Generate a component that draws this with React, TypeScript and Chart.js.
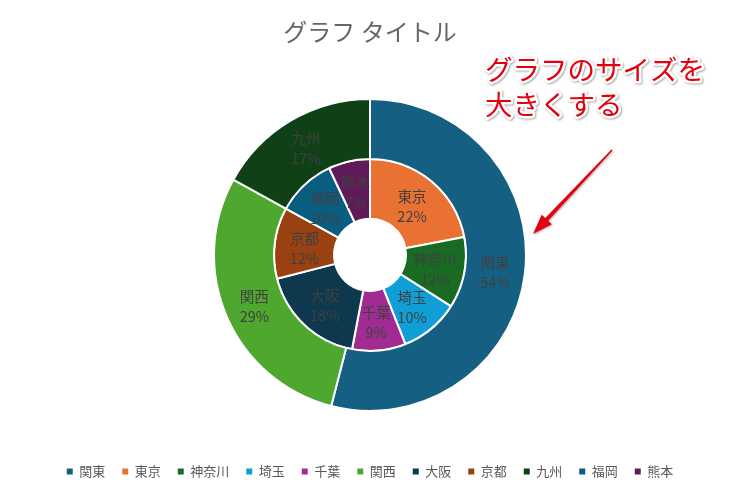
import React, { useEffect, useRef } from 'react';
import { Chart, registerables } from 'chart.js';

Chart.register(...registerables);

const categories = ['関東', '東京', '神奈川', '埼玉', '千葉', '関西', '大阪', '京都', '九州', '福岡', '熊本'];
// outer ring: regions
const regionValues = [54, 0, 0, 0, 0, 29, 0, 0, 17, 0, 0];
// inner ring: prefectures
const prefectureValues = [0, 22, 12, 10, 9, 0, 18, 12, 0, 10, 7];
const sliceColors = ['#156082', '#E97132', '#196B24', '#0F9ED5', '#A02B93', '#4EA72E', '#0D384E', '#994111', '#0F4016', '#095E80', '#601A59'];
const chartTitle = 'グラフ タイトル';
const calloutLines = ['グラフのサイズを', '大きくする'];

const FONT = "'Noto Sans CJK JP', 'Noto Sans', sans-serif";

const ringLabelsPlugin = {
  id: 'ringLabels',
  afterDatasetsDraw(chart: any) {
    const ctx = chart.ctx;
    ctx.save();
    ctx.font = `14.5px ${FONT}`;
    ctx.fillStyle = '#404040';
    ctx.textAlign = 'center';
    ctx.textBaseline = 'middle';
    chart.data.datasets.forEach((ds: any, di: number) => {
      const meta = chart.getDatasetMeta(di);
      const total = ds.data.reduce((a: number, b: number) => a + b, 0);
      meta.data.forEach((arc: any, i: number) => {
        const v = ds.data[i];
        if (!v) return;
        const p = arc.tooltipPosition();
        const pct = Math.round((v / total) * 100) + '%';
        ctx.fillText(chart.data.labels[i], p.x, p.y - 8);
        ctx.fillText(pct, p.x, p.y + 12);
      });
    });
    ctx.restore();
  },
};

const calloutPlugin = {
  id: 'callout',
  afterDraw(chart: any) {
    const ctx = chart.ctx;
    ctx.save();
    ctx.font = `27.5px ${FONT}`;
    ctx.textAlign = 'left';
    ctx.textBaseline = 'middle';
    ctx.lineJoin = 'round';
    const ys = [70, 105];
    calloutLines.forEach((t, k) => {
      ctx.save();
      ctx.shadowColor = 'rgba(0,0,0,0.35)';
      ctx.shadowBlur = 2;
      ctx.shadowOffsetX = 1;
      ctx.shadowOffsetY = 1;
      ctx.strokeStyle = '#ffffff';
      ctx.lineWidth = 5;
      ctx.strokeText(t, 485, ys[k]);
      ctx.restore();
      ctx.fillStyle = '#E3000F';
      ctx.fillText(t, 485, ys[k]);
    });
    // arrow
    const x0 = 612, y0 = 150, x1 = 533, y1 = 234;
    const dx = x1 - x0, dy = y1 - y0;
    const len = Math.hypot(dx, dy);
    const ux = dx / len, uy = dy / len;
    const nx = -uy, ny = ux;
    const headLen = 20, headW = 7;
    const bx = x1 - ux * headLen, by = y1 - uy * headLen;
    ctx.shadowColor = 'rgba(0,0,0,0.3)';
    ctx.shadowBlur = 2;
    ctx.shadowOffsetX = 1;
    ctx.shadowOffsetY = 1;
    ctx.fillStyle = '#E3000F';
    ctx.beginPath();
    ctx.moveTo(x0 + nx * 0.8, y0 + ny * 0.8);
    ctx.lineTo(bx + nx * 2, by + ny * 2);
    ctx.lineTo(bx + nx * headW, by + ny * headW);
    ctx.lineTo(x1, y1);
    ctx.lineTo(bx - nx * headW, by - ny * headW);
    ctx.lineTo(bx - nx * 2, by - ny * 2);
    ctx.lineTo(x0 - nx * 0.8, y0 - ny * 0.8);
    ctx.closePath();
    ctx.fill();
    ctx.restore();
  },
};

export default function App() {
  const ref = useRef<HTMLCanvasElement | null>(null);
  useEffect(() => {
    if (!ref.current) return;
    const baseGen = (Chart as any).overrides.doughnut.plugins.legend.labels.generateLabels;
    const chart = new Chart(ref.current, {
      type: 'doughnut',
      data: {
        labels: categories,
        datasets: [
          { data: regionValues, backgroundColor: sliceColors, borderColor: '#ffffff', borderWidth: 2 },
          { data: prefectureValues, backgroundColor: sliceColors, borderColor: '#ffffff', borderWidth: 2 },
        ],
      },
      options: {
        responsive: false,
        animation: false,
        devicePixelRatio: 1,
        radius: 156,
        cutout: '23.1%',
        layout: { padding: { left: 4, right: 0, top: 0, bottom: 1 } },
        plugins: {
          title: {
            display: true,
            text: chartTitle,
            color: '#666666',
            font: { family: FONT, size: 24, weight: 'normal' },
            padding: { top: 17, bottom: 16 },
          },
          legend: {
            position: 'bottom',
            labels: {
              color: '#595959',
              font: { family: FONT, size: 13 },
              boxWidth: 6,
              boxHeight: 6,
              padding: 17,
              generateLabels: (c: any) => baseGen(c).map((l: any) => ({ ...l, lineWidth: 0 })),
            },
          },
          tooltip: { enabled: false },
        },
      } as any,
      plugins: [ringLabelsPlugin, calloutPlugin],
    });
    return () => chart.destroy();
  }, []);
  return (
    <div style={{ position: 'absolute', left: 0, top: 0, width: 736, height: 489, background: '#fff' }}>
      <canvas ref={ref} width={736} height={489} />
    </div>
  );
}
